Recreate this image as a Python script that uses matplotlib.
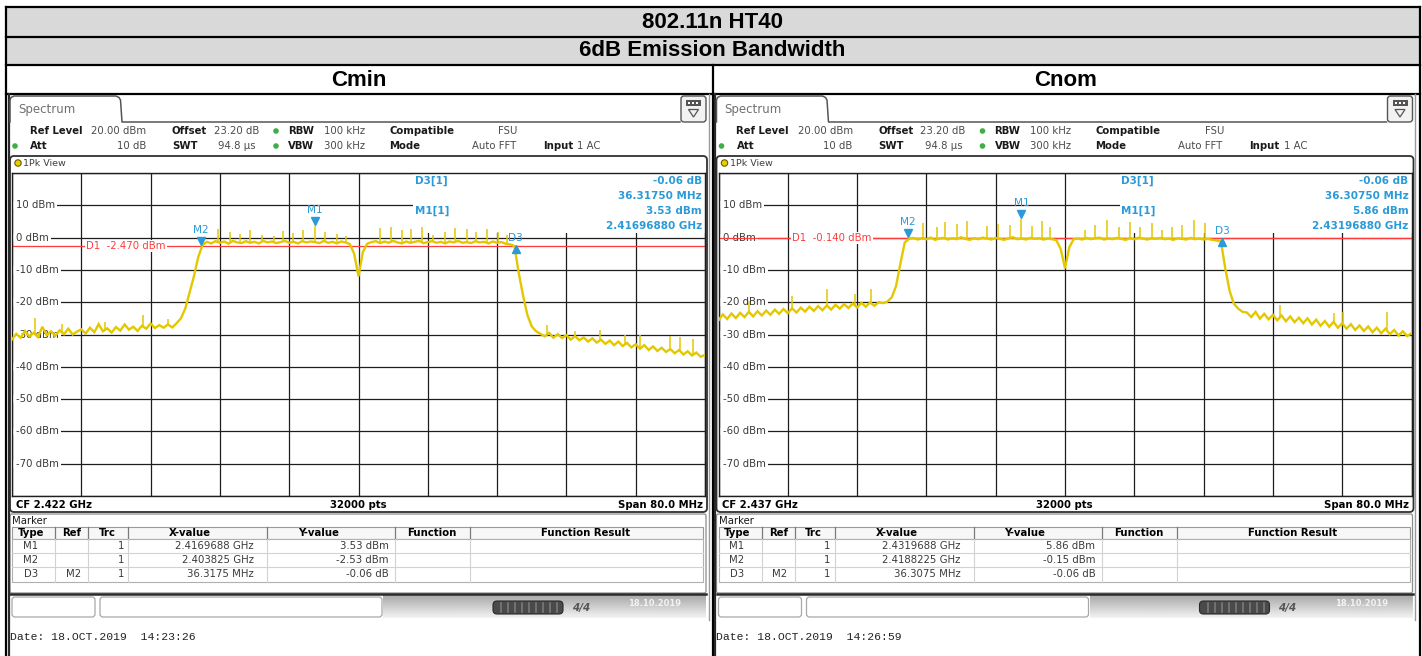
import numpy as np
import matplotlib.pyplot as plt
import matplotlib.transforms as mtransforms
from matplotlib.patches import Rectangle, FancyBboxPatch, Circle, Polygon

W, H = 1422, 656

header_title = "802.11n HT40"
header_sub = "6dB Emission Bandwidth"
panel_names = ["Cmin", "Cnom"]
center_freq = [2.422, 2.437]          # GHz
cf_labels = ["CF 2.422 GHz", "CF 2.437 GHz"]
y_ticks = [10, 0, -10, -20, -30, -40, -50, -60, -70]
display_line = [-2.470, -0.140]       # D1 in dBm

# sweep grid, MHz from CF
freq_off = np.arange(-40.0, 40.01, 0.5)

cmin_level = [
    -31.5, -29.8, -31.0, -28.9, -30.6, -29.5, -30.8, -27.6, -30.2, -29.0,
    -30.4, -28.7, -29.9, -28.2, -30.0, -29.1, -28.4, -29.7, -27.9, -29.3,
    -26.8, -29.0, -28.1, -29.4, -27.7, -28.8, -26.9, -28.5, -27.6, -28.9,
    -27.3, -28.2, -26.6, -28.0, -27.1, -27.9, -26.9, -27.8,
    -26.5, -25.0, -22.0, -17.0, -12.0, -6.0, -2.3,
    -1.3, -1.8, -1.1, -1.6, -1.2, -1.9, -1.0, -1.5, -1.7, -1.1, -1.6, -1.3,
    -1.8, -1.0, -1.5, -1.2, -1.7, -1.4, -1.0, -1.6, -1.3, -1.8, -1.1, -1.5,
    -1.2, -1.4, -1.7, -1.0, -1.6, -1.3, -1.8, -1.2, -1.5, -2.0, -5.0,
    -12.0, -4.5, -1.9,
    -1.4, -1.1, -1.7, -1.2, -1.6, -1.0, -1.5, -1.8, -1.2, -1.6, -1.3, -1.0,
    -1.7, -1.4, -1.1, -1.6, -1.3, -1.8, -1.2, -1.5, -1.0, -1.6, -1.4, -1.7,
    -1.1, -1.5, -1.3, -1.8, -1.2, -1.6, -1.4, -1.9, -2.1,
    -2.6, -11.0, -18.0, -24.0, -27.5, -29.0,
    -29.8, -30.6, -29.5, -31.0, -29.9, -31.1, -30.2, -31.6, -30.5, -31.8,
    -30.9, -32.2, -31.2, -32.5, -31.6, -32.9, -31.9, -33.3, -32.2, -33.6,
    -32.6, -34.0, -33.0, -34.4, -33.3, -34.8, -33.7, -35.1, -34.1, -35.4,
    -34.5, -35.8, -34.8, -36.2, -35.2, -36.5, -35.6, -36.9, -36.3,
]
cnom_level = [
    -25.6, -23.8, -25.2, -23.5, -24.9, -23.3, -24.6, -23.0, -24.4, -22.8,
    -24.1, -22.6, -23.9, -22.3, -23.6, -22.1, -23.4, -21.9, -23.2, -21.7,
    -22.9, -21.4, -22.7, -21.2, -22.5, -21.0, -22.3, -20.8, -22.0, -20.6,
    -21.8, -20.4, -21.6, -20.2, -21.4, -20.1, -21.1, -20.0,
    -20.3, -19.8, -18.5, -15.0, -8.0, -1.5, -0.4,
    -0.1, -0.6, -0.2, -0.5, 0.0, -0.7, -0.3, -0.1, -0.6, -0.2, -0.5, 0.1,
    -0.4, -0.7, -0.2, -0.5, 0.0, -0.3, -0.6, -0.1, -0.4, -0.7, -0.2, 0.1,
    -0.5, -0.3, -0.6, -0.1, -0.4, -0.2, -0.6, -0.3, -0.5, -0.8, -3.5,
    -9.5, -3.0, -0.5,
    -0.3, -0.6, -0.1, -0.5, -0.2, 0.0, -0.6, -0.3, -0.5, -0.1, -0.4, -0.7,
    -0.2, -0.5, 0.0, -0.3, -0.6, -0.2, -0.4, -0.1, -0.5, -0.3, -0.7, -0.2,
    -0.4, -0.6, -0.1, -0.5, -0.3, -0.6, -0.4, -0.7, -0.9,
    -1.2, -9.5, -16.5, -20.5, -22.0, -23.0,
    -23.2, -24.6, -23.0, -25.1, -23.6, -25.3, -23.9, -25.6, -24.1, -25.9,
    -24.4, -26.2, -24.8, -26.5, -25.0, -26.9, -25.4, -27.3, -25.8, -27.6,
    -26.1, -27.9, -26.5, -28.2, -26.8, -28.6, -27.2, -28.9, -27.5, -29.3,
    -27.9, -29.6, -28.2, -29.9, -28.6, -30.3, -29.0, -30.5, -29.6,
]

# narrow peaks on the trace (MHz from CF, top level dBm)
cmin_spike_f = [-37.3, -34.2, -29.3, -24.9, -22.0,
                -16.2, -14.8, -13.7, -12.5, -11.1, -9.8, -8.7, -7.6, -6.4, -5.03, -3.9, -2.5, -1.5,
                2.5, 3.8, 5.0, 6.1, 7.3, 8.6, 10.0, 11.1, 12.5, 13.6, 14.8, 16.1, 17.2,
                21.8, 25.0, 27.9, 30.8, 32.5, 36.0, 37.1, 38.6]
cmin_spike_top = [-25.0, -26.8, -26.0, -24.0, -25.3,
                  2.6, 1.8, 1.0, 2.2, 0.8, 0.5, 2.0, 1.5, 2.4, 3.53, 1.6, 1.2, 0.6,
                  3.0, 3.3, 2.2, 2.7, 3.2, 0.8, 1.8, 3.0, 2.6, 1.7, 2.8, 1.6, 0.9,
                  -27.0, -28.8, -28.5, -30.0, -30.2, -30.5, -30.8, -31.5]
cnom_spike_f = [-36.5, -31.5, -27.5, -24.2, -22.4,
                -16.4, -14.8, -13.8, -12.5, -11.3, -9.0, -7.7, -6.3, -5.03, -3.8, -2.6, -1.7,
                2.3, 3.5, 4.9, 6.2, 7.5, 8.7, 10.1, 11.2, 12.4, 13.5, 14.9, 16.2,
                24.8, 31.0, 32.1, 37.2]
cnom_spike_top = [-19.5, -18.0, -16.0, -17.5, -15.8,
                  4.6, 3.2, 4.7, 4.2, 5.2, 3.7, 4.3, 3.8, 5.86, 3.7, 5.1, 3.2,
                  2.4, 3.8, 5.3, 3.3, 4.8, 3.3, 4.4, 2.4, 3.3, 3.8, 5.4, 4.4,
                  -20.8, -23.4, -23.0, -23.0]

levels = [cmin_level, cnom_level]
spike_f = [cmin_spike_f, cnom_spike_f]
spike_top = [cmin_spike_top, cnom_spike_top]

m1_x = [2.4169688, 2.4319688]
m1_y = [3.53, 5.86]
m2_x = [2.403825, 2.4188225]
m2_y = [-2.53, -0.15]
d3_dx = [36.3175, 36.3075]    # MHz
d3_dy = [-0.06, -0.06]

info_d3 = [["-0.06 dB", "36.31750 MHz"], ["-0.06 dB", "36.30750 MHz"]]
info_m1 = [["3.53 dBm", "2.41696880 GHz"], ["5.86 dBm", "2.43196880 GHz"]]

table_cols = ["Type", "Ref", "Trc", "X-value", "Y-value", "Function", "Function Result"]
table_rows = [
    [["M1", "", "1", "2.4169688 GHz", "3.53 dBm"],
     ["M2", "", "1", "2.403825 GHz", "-2.53 dBm"],
     ["D3", "M2", "1", "36.3175 MHz", "-0.06 dB"]],
    [["M1", "", "1", "2.4319688 GHz", "5.86 dBm"],
     ["M2", "", "1", "2.4188225 GHz", "-0.15 dBm"],
     ["D3", "M2", "1", "36.3075 MHz", "-0.06 dB"]],
]
dates = ["Date: 18.OCT.2019  14:23:26", "Date: 18.OCT.2019  14:26:59"]

YEL = '#e3c800'
BLUE = '#2a9ad8'
RED = '#ff3b3b'
SANS = 'DejaVu Sans'
FS = 7.3

fig = plt.figure(figsize=(W / 100, H / 100), dpi=100)
bg = fig.add_axes([0, 0, 1, 1])
bg.axis('off')

# ---- outer result table header
bg.add_patch(Rectangle((5.5, 6.7), 1414, 58.3, fc='#d9d9d9', ec='none'))
for yy in [6.7, 36.7, 65, 94]:
    bg.plot([5.5, 1419.5], [yy, yy], color='black', lw=1.6)
for xx in [5.5, 1419.5]:
    bg.plot([xx, xx], [6.7, H], color='black', lw=1.6)
bg.plot([712.7, 712.7], [65, H], color='black', lw=1.6)
hfont = dict(family=['Liberation Sans', 'DejaVu Sans'], weight='bold', fontsize=16)
bg.text(712, 22, header_title, ha='center', va='center', **hfont)
bg.text(712, 51, header_sub, ha='center', va='center', **hfont)
bg.text(359, 80, panel_names[0], ha='center', va='center', **hfont)
bg.text(1066, 80, panel_names[1], ha='center', va='center', **hfont)


def draw_panel(k, dx):
    cf = center_freq[k]
    # screenshot edges
    bg.plot([8.8 + dx, 8.8 + dx], [94, H], color='#2a2a2a', lw=1.6)
    bg.plot([708.5 + dx, 708.5 + dx], [94, 620], color='#9a9a9a', lw=1.0)

    # Spectrum tab
    tx = [10, 10, 11, 14, 116, 119, 120.5, 122, 680]
    ty = [122, 100, 97.5, 96, 96, 97.5, 100, 122, 122]
    bg.plot([v + dx for v in tx], ty, color='#555555', lw=1.1)
    bg.text(18 + dx, 110, "Spectrum", fontsize=8.5, color='#707070', va='center', family=SANS)
    bg.add_patch(FancyBboxPatch((681 + dx, 96), 25, 26, boxstyle='round,pad=0,rounding_size=3',
                                fc='#f2f2f2', ec='#555555', lw=1.0))
    bg.add_patch(Rectangle((686 + dx, 100), 15, 6, fc='#555555', ec='none'))
    for sx in [688, 692, 696]:
        bg.add_patch(Rectangle((sx + dx, 101.5), 2.2, 2.5, fc='white', ec='none'))
    bg.add_patch(Polygon([(688.5 + dx, 109.5), (698.5 + dx, 109.5), (693.5 + dx, 117)],
                         closed=True, fc='none', ec='#555555', lw=0.9))

    # instrument settings
    bold_lbl = [("Ref Level", 30, 131), ("Offset", 172, 131), ("RBW", 288, 131),
                ("Compatible", 389, 131), ("Att", 30, 146), ("SWT", 172, 146),
                ("VBW", 288, 146), ("Mode", 389, 146), ("Input", 543, 146)]
    for s, x, y in bold_lbl:
        bg.text(x + dx, y, s, fontsize=FS, weight='bold', color='#1a1a1a', va='center', family=SANS)
    vals = [("20.00 dBm", 91, 131, 'left'), ("23.20 dB", 214, 131, 'left'),
            ("100 kHz", 324, 131, 'left'), ("FSU", 498, 131, 'left'),
            ("10 dB", 146, 146, 'right'), ("94.8 µs", 256, 146, 'right'),
            ("300 kHz", 324, 146, 'left'), ("Auto FFT", 472, 146, 'left'),
            ("1 AC", 577, 146, 'left')]
    for s, x, y, ha in vals:
        bg.text(x + dx, y, s, fontsize=FS, color='#4a4a4a', va='center', ha=ha, family=SANS)
    for x, y in [(276, 131), (276, 146), (15, 146)]:
        bg.add_patch(Circle((x + dx, y), 2.8, fc='#3fae49', ec='none'))

    # 1Pk view frame
    bg.add_patch(FancyBboxPatch((10 + dx, 156), 697, 356, boxstyle='round,pad=0,rounding_size=4',
                                fc='white', ec='#303030', lw=1.3))
    bg.add_patch(Circle((18 + dx, 163), 3.2, fc='#e8d000', ec='#6e5a00', lw=0.8))
    bg.text(23 + dx, 163.5, "1Pk View", fontsize=6.8, color='#404040', va='center', family=SANS)
    bg.text(16 + dx, 504.5, cf_labels[k], fontsize=FS, weight='bold', va='center', family=SANS)
    bg.text(358 + dx, 504.5, "32000 pts", fontsize=FS, weight='bold', va='center', ha='center', family=SANS)
    bg.text(703 + dx, 504.5, "Span 80.0 MHz", fontsize=FS, weight='bold', va='center', ha='right', family=SANS)

    # marker table
    bg.add_patch(FancyBboxPatch((10 + dx, 514), 696, 79, boxstyle='round,pad=0,rounding_size=2',
                                fc='white', ec='#8c8c8c', lw=0.9))
    bg.plot([10 + dx, 706 + dx], [593.5, 593.5], color='#2a2a2a', lw=1.8)
    bg.text(12 + dx, 521, "Marker", fontsize=FS, color='#1a1a1a', va='center', family=SANS)
    bg.add_patch(Rectangle((12 + dx, 527), 691, 12, fc='#f7f7f7', ec='#9a9a9a', lw=0.8))
    bg.add_patch(Rectangle((12 + dx, 539), 691, 43, fc='white', ec='#b0b0b0', lw=0.8))
    for yy in [553, 567]:
        bg.plot([12 + dx, 703 + dx], [yy, yy], color='#d2d2d2', lw=0.8)
    for xx in [55, 88, 128, 267, 395, 470]:
        bg.plot([xx + dx, xx + dx], [527, 539], color='#7a7a7a', lw=0.9)
        bg.plot([xx + dx, xx + dx], [539, 582], color='#d2d2d2', lw=0.8)
    for s, xc in zip(table_cols, [31, 72, 107, 190, 318, 432, 586]):
        bg.text(xc + dx, 533, s, fontsize=FS, weight='bold', ha='center', va='center', family=SANS)
    for r, row in enumerate(table_rows[k]):
        yy = 546 + 14 * r
        for s, xr in zip(row, [38, 81, 124, 254, 389]):
            bg.text(xr + dx, yy, s, fontsize=FS, ha='right', va='center', color='#3a3a3a', family=SANS)

    # status bar
    bg.add_patch(FancyBboxPatch((12 + dx, 597), 83, 20, boxstyle='round,pad=0,rounding_size=3',
                                fc='white', ec='#a8a8a8', lw=0.9))
    bg.add_patch(FancyBboxPatch((100 + dx, 597), 282, 20, boxstyle='round,pad=0,rounding_size=3',
                                fc='white', ec='#a8a8a8', lw=0.9))
    grad = np.linspace(0.66, 0.95, 24).reshape(-1, 1)
    bg.imshow(grad, extent=(383 + dx, 706 + dx, 618, 595), cmap='gray', vmin=0, vmax=1,
              aspect='auto', interpolation='bilinear', zorder=1)
    bg.add_patch(FancyBboxPatch((493 + dx, 601), 70, 13, boxstyle='round,pad=0,rounding_size=4',
                                fc='#4a4a4a', ec='#2a2a2a', lw=0.8, zorder=2))
    for sx in range(501, 558, 7):
        bg.plot([sx + dx, sx + dx], [603, 612], color='#7a7a7a', lw=1.2, zorder=3)
    bg.text(572 + dx, 607.5, "4/4", fontsize=7.5, weight='bold', style='italic', color='#555555',
            va='center', family=SANS, zorder=3)
    bg.text(655 + dx, 603, "18.10.2019", fontsize=6, weight='bold', color='#f2f2f2',
            va='center', ha='center', family=SANS, zorder=3)
    bg.text(9.5 + dx, 637, dates[k], fontsize=8.2, family=['Liberation Mono', 'DejaVu Sans Mono'],
            va='center', color='#222222')

    # ---- trace diagram
    px0 = 12 + dx
    ax = fig.add_axes([px0 / W, 1 - 496 / H, 693 / W, 323 / H], zorder=3)
    ax.set_facecolor('white')
    ax.set_xlim(cf - 0.040, cf + 0.040)
    ax.set_ylim(-80, 20)
    ax.set_xticks(cf + np.arange(-40, 41, 8) / 1000)
    ax.set_yticks(range(-80, 21, 10))
    ax.grid(True, color='#1e1e1e', lw=0.9)
    ax.set_axisbelow(True)
    ax.tick_params(length=0, labelbottom=False, labelleft=False)
    for sp in ax.spines.values():
        sp.set_color('#1e1e1e')
        sp.set_linewidth(1.0)

    def fx(p):
        return (p - 12) / 693.0

    def fy(p):
        return (496 - p) / 323.0

    blend = mtransforms.blended_transform_factory(ax.transAxes, ax.transData)
    ax.add_patch(Rectangle((fx(413), fy(233)), 1 - fx(413), 1 - fy(233), transform=ax.transAxes,
                           fc='white', ec='none', zorder=1.5))
    for v in y_ticks:
        ax.add_patch(Rectangle((0, v - 1.2), fx(16), 2.4, transform=blend, fc='white', ec='none', zorder=1.8))
        ax.text(fx(16.5), v, f"{v} dBm", transform=blend, fontsize=FS, color='#3a3a3a', va='center',
                family=SANS, zorder=2,
                bbox=dict(boxstyle='square,pad=0.18', fc='white', ec='none'))

    d1 = display_line[k]
    ax.axhline(d1, color=RED, lw=0.9, zorder=2.5)
    ax.text(fx(86), d1, f"D1  {d1:.3f} dBm", transform=blend, fontsize=FS, color=RED, va='center',
            family=SANS, zorder=2.6, bbox=dict(boxstyle='square,pad=0.1', fc='white', ec='none'))

    fghz = cf + freq_off / 1000
    lev = np.array(levels[k])
    ax.plot(fghz, lev, color=YEL, lw=1.7, zorder=3, solid_joinstyle='miter')
    sf = np.array(spike_f[k])
    ax.vlines(cf + sf / 1000, np.interp(sf, freq_off, lev), spike_top[k], color=YEL, lw=1.1, zorder=3)

    d3x = m2_x[k] + d3_dx[k] / 1000
    d3y = m2_y[k] + d3_dy[k]
    for mx, my, name in [(m1_x[k], m1_y[k], "M1"), (m2_x[k], m2_y[k], "M2")]:
        ax.plot([mx], [my + 1.5], ls='none', marker='v', ms=5.5, color=BLUE, mec=BLUE, zorder=4)
        ax.text(mx, my + 4.9, name, ha='center', va='center', fontsize=FS + 0.3, color=BLUE,
                family=SANS, zorder=4)
    ax.plot([d3x], [d3y - 1.0], ls='none', marker='^', ms=5.5, color=BLUE, mec=BLUE, zorder=4)
    ax.text(d3x, d3y + 2.4, "D3", ha='center', va='center', fontsize=FS + 0.3, color=BLUE,
            family=SANS, zorder=4)

    ibold = dict(fontsize=FS + 0.2, weight='bold', color=BLUE, family=SANS, va='center',
                 transform=ax.transAxes, zorder=4)
    ax.text(fx(415), fy(181), "D3[1]", ha='left', **ibold)
    ax.text(fx(415), fy(211), "M1[1]", ha='left', **ibold)
    ax.text(fx(702), fy(181), info_d3[k][0], ha='right', **ibold)
    ax.text(fx(702), fy(196), info_d3[k][1], ha='right', **ibold)
    ax.text(fx(702), fy(211), info_m1[k][0], ha='right', **ibold)
    ax.text(fx(702), fy(226), info_m1[k][1], ha='right', **ibold)


draw_panel(0, 0.0)
draw_panel(1, 706.5)

bg.set_xlim(0, W)
bg.set_ylim(H, 0)
fig.savefig("out.png", dpi=100)
